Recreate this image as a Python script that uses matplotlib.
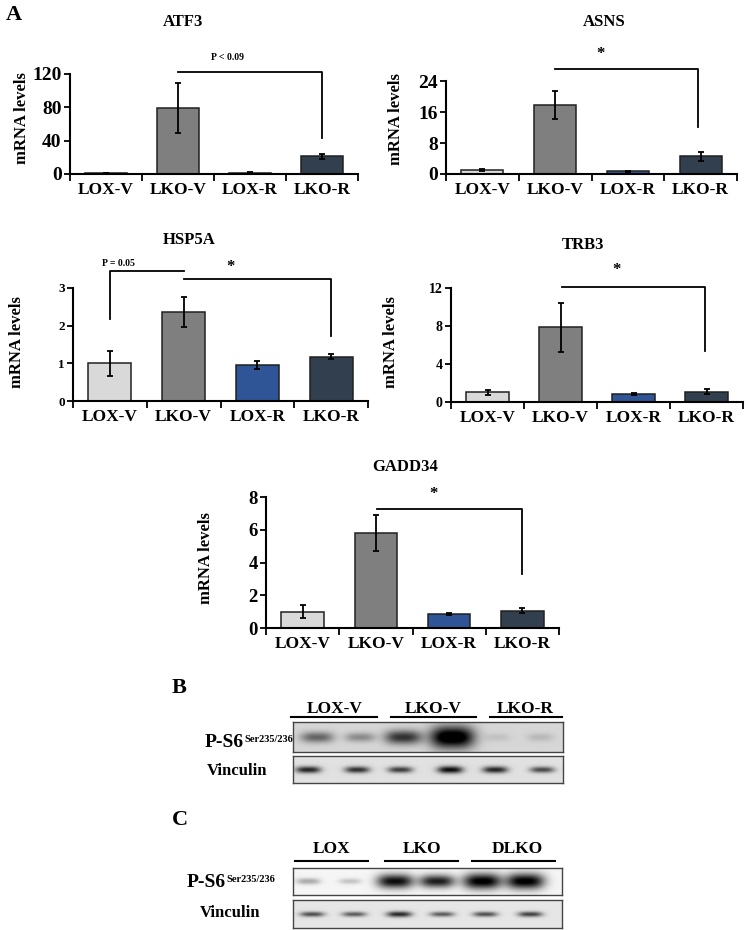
import numpy as np
import matplotlib
matplotlib.use('Agg')
import matplotlib.pyplot as plt

plt.rcParams['font.family'] = ['Liberation Serif', 'DejaVu Serif']
plt.rcParams['font.weight'] = 'bold'

# ---- data ----
groups = ['LOX-V', 'LKO-V', 'LOX-R', 'LKO-R']
bar_colors = ['#d9d9d9', '#7f7f7f', '#2f5597', '#323f4f']

atf3 = [1.0, 79.0, 1.5, 21.0]
atf3_err = [0.3, 30.0, 0.5, 2.5]
asns = [1.0, 17.8, 0.7, 4.6]
asns_err = [0.3, 3.5, 0.2, 1.2]
hsp5a = [1.0, 2.37, 0.96, 1.18]
hsp5a_err = [0.33, 0.40, 0.11, 0.06]
trb3 = [1.0, 7.85, 0.85, 1.1]
trb3_err = [0.25, 2.6, 0.12, 0.3]
gadd34 = [1.0, 5.8, 0.85, 1.05]
gadd34_err = [0.4, 1.1, 0.08, 0.15]

# western blot band intensities (0 = none, 1 = saturated), 6 lanes each
blot_b_lanes = ['LOX-V', 'LKO-V', 'LKO-R']
blot_b_ps6 = [0.45, 0.30, 0.65, 1.0, 0.08, 0.12]
blot_b_vinc = [0.75, 0.70, 0.65, 0.85, 0.75, 0.60]
blot_c_lanes = ['LOX', 'LKO', 'DLKO']
blot_c_ps6 = [0.30, 0.20, 0.92, 0.85, 1.0, 1.0]
blot_c_vinc = [0.60, 0.55, 0.75, 0.55, 0.60, 0.65]

W, H = 748, 930
fig = plt.figure(figsize=(W / 100, H / 100), dpi=100)


def box(l, t, r, b):
    return [l / W, 1 - b / H, (r - l) / W, (b - t) / H]


# overlay axes in pixel coordinates for free text
ov = fig.add_axes([0, 0, 1, 1], zorder=5)
ov.set_xlim(0, W)
ov.set_ylim(H, 0)
ov.axis('off')
ov.patch.set_alpha(0)


def bar_panel(pos, vals, errs, ymax, ystep, ytick_fs):
    ax = fig.add_axes(box(*pos))
    x = np.arange(len(groups))
    ax.bar(x, vals, width=0.58, color=bar_colors, edgecolor='#202020', linewidth=1.1, zorder=2)
    ax.errorbar(x, vals, yerr=errs, fmt='none', ecolor='black', elinewidth=1.3,
                capsize=2, capthick=1.3, zorder=3)
    ax.set_xlim(-0.5, 3.5)
    ax.set_ylim(0, ymax)
    ax.set_yticks(np.arange(0, ymax + 0.001, ystep))
    ax.set_xticks(x)
    ax.set_xticklabels(groups, fontsize=12.5, fontweight='bold')
    ax.set_xticks(np.arange(-0.5, 4, 1), minor=True)
    ax.tick_params(axis='x', which='major', length=0, pad=6)
    ax.tick_params(axis='x', which='minor', length=5, width=1.3, direction='out')
    ax.tick_params(axis='y', length=4, width=1.3, direction='out', labelsize=ytick_fs, pad=2)
    for lab in ax.get_yticklabels():
        lab.set_fontweight('bold')
    for s in ['top', 'right']:
        ax.spines[s].set_visible(False)
    for s in ['left', 'bottom']:
        ax.spines[s].set_linewidth(1.5)
    return ax


def bracket(ax, x0, x1, y, ydown, left_down=None):
    xs = [x0, x1, x1]
    ys = [y, y, ydown]
    if left_down is not None:
        xs = [x0] + xs
        ys = [left_down] + ys
    ax.plot(xs, ys, color='black', lw=1.3, clip_on=False, zorder=4)


# ---- panel A ----
ax1 = bar_panel((70, 74, 358, 174), atf3, atf3_err, 120, 40, 14)
bracket(ax1, 1.0, 3.0, 122.4, 43)
ax1.text(1.69, 140.4, 'P < 0.09', fontsize=7, ha='center', va='center')

ax2 = bar_panel((446, 81, 737, 174), asns, asns_err, 24, 8, 14)
bracket(ax2, 1.0, 2.97, 27.1, 12.1)
ax2.text(1.62, 31.0, '*', fontsize=12, ha='center', va='center')

ax3 = bar_panel((73, 288, 368, 401), hsp5a, hsp5a_err, 3, 1, 9.5)
bracket(ax3, 0.0, 1.0, 3.45, 3.45, left_down=2.18)
bracket(ax3, 1.0, 3.0, 3.24, 1.73)
ax3.text(0.12, 3.66, 'P = 0.05', fontsize=7, ha='center', va='center')
ax3.text(1.64, 3.55, '*', fontsize=12, ha='center', va='center')

ax4 = bar_panel((451, 288, 743, 402), trb3, trb3_err, 12, 4, 10)
bracket(ax4, 1.02, 2.98, 12.1, 5.4)
ax4.text(1.77, 13.9, '*', fontsize=12, ha='center', va='center')

ax5 = bar_panel((266, 497, 559, 628), gadd34, gadd34_err, 8, 2, 13.5)
bracket(ax5, 1.02, 3.0, 7.27, 3.3)
ax5.text(1.78, 8.2, '*', fontsize=12, ha='center', va='center')

titles = [('ATF3', 183, 22), ('ASNS', 604, 22), ('HSP5A', 189, 240),
          ('TRB3', 583, 245), ('GADD34', 405, 467)]
for t, x, y in titles:
    ov.text(x, y, t, fontsize=12, ha='center', va='center')

ylabs = [(22, 118), (396, 119), (17, 342), (391, 342), (206, 558)]
for x, y in ylabs:
    ov.text(x, y, 'mRNA levels', fontsize=12, rotation=90, ha='center', va='center')

ov.text(6, 15, 'A', fontsize=16, ha='left', va='center')
ov.text(172, 688, 'B', fontsize=16, ha='left', va='center')
ov.text(172, 820, 'C', fontsize=16, ha='left', va='center')


# ---- blots ----
def blot(pos, levels, centers, bg, size):
    l, t, r, b = pos
    w, h = (r - l) * 2, (b - t) * 2
    xx, yy = np.meshgrid(np.arange(w) / 2.0, np.arange(h) / 2.0)
    img = np.full((h, w), bg)
    for c, lev in zip(centers, levels):
        sx = size[0] + size[1] * lev
        sy = size[2] + size[3] * lev ** 2
        yc = (b - t) * 0.5
        band = lev * np.exp(-np.abs((xx - c) / sx) ** 3) * np.exp(-((yy - yc) / sy) ** 2)
        img = img - band
    img = np.clip(img, 0, 1)
    ax = fig.add_axes(box(*pos))
    ax.imshow(img, cmap='gray', vmin=0, vmax=1, aspect='auto', interpolation='bilinear')
    ax.set_xticks([])
    ax.set_yticks([])
    for s in ax.spines.values():
        s.set_color('#444444')
        s.set_linewidth(1.0)
    return ax


b_centers = [24, 67, 110, 159, 204, 247]
blot((293, 722, 563, 752), blot_b_ps6, b_centers, 0.84, (12, 10, 4, 7))
blot((293, 756, 563, 783), blot_b_vinc, [15, 64, 107, 157, 202, 249], 0.88, (11, 2, 2.5, 1.5))
c_centers = [15, 57, 102, 144, 189, 232]
blot((293, 868, 562, 895), blot_c_ps6, c_centers, 0.96, (9, 10, 2.5, 5))
blot((293, 900, 562, 928), blot_c_vinc, [19, 61, 106, 149, 192, 237], 0.9, (11, 2, 2, 1.5))

for lab, cx, x0, x1 in zip(blot_b_lanes, [335, 433, 525], [291, 391, 490], [377, 476, 562]):
    ov.text(cx, 709, lab, fontsize=12.5, ha='center', va='center')
    ov.plot([x0, x1], [717, 717], color='black', lw=1.5)
for lab, cx, x0, x1 in zip(blot_c_lanes, [332, 422, 517], [295, 385, 472], [368, 458, 555]):
    ov.text(cx, 849, lab, fontsize=12.5, ha='center', va='center')
    ov.plot([x0, x1], [861, 861], color='black', lw=1.5)

for x, y, vx, vy in [(205, 742, 207, 771), (187, 882, 200, 913)]:
    t = ov.text(x, y, 'P-S6', fontsize=14, ha='left', va='center')
    ov.annotate('Ser235/236', xy=(1.0, 1.0), xycoords=t, xytext=(0.5, -1),
                textcoords='offset points', fontsize=7.5, ha='left', va='top')
    ov.text(vx, vy, 'Vinculin', fontsize=12, ha='left', va='center')

fig.savefig('out.png', dpi=100)
